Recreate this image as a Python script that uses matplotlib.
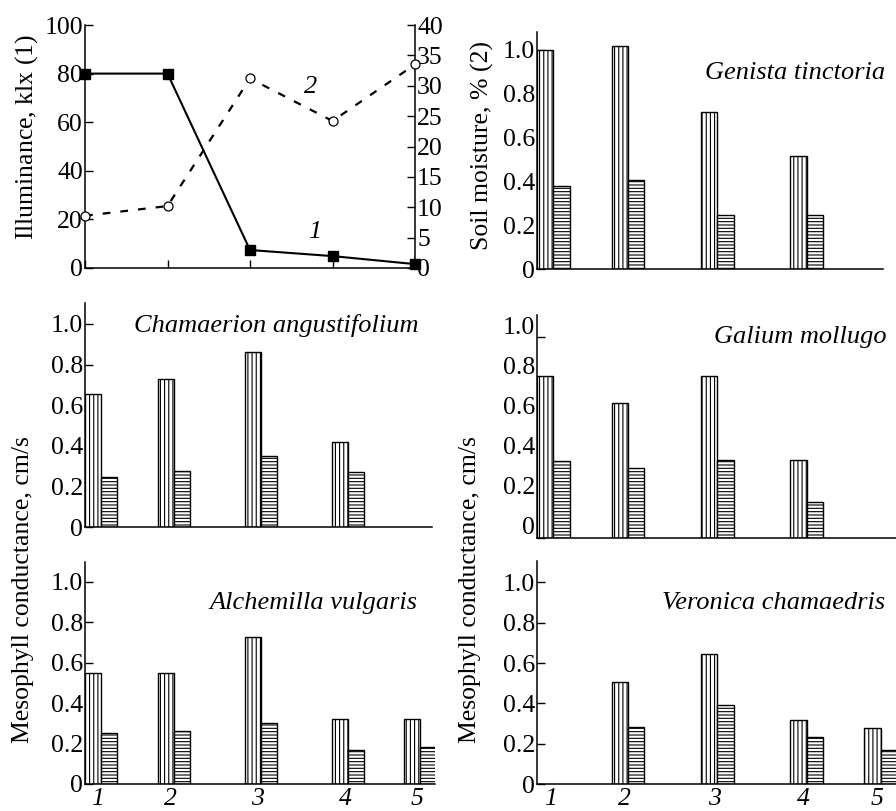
import numpy as np
import matplotlib
matplotlib.use('Agg')
import matplotlib.pyplot as plt
import matplotlib.transforms as mtransforms

plt.rcParams['font.family'] = 'Liberation Serif'
plt.rcParams['mathtext.fontset'] = 'custom'
plt.rcParams['mathtext.rm'] = 'Liberation Serif'
plt.rcParams['mathtext.it'] = 'Liberation Serif:italic'
plt.rcParams['hatch.linewidth'] = 0.8
plt.rcParams['axes.linewidth'] = 1.1

# sites along the transect
sites = ['1', '2', '3', '4', '5']
site_idx = [1, 2, 3, 4, 5]
illuminance = [80, 80, 7.4, 4.9, 1.6]          # klx, curve 1
soil_moisture = [8.6, 10.2, 31.2, 24.2, 33.5]  # %, curve 2

species = ['Genista tinctoria', 'Chamaerion angustifolium', 'Galium mollugo',
           'Alchemilla vulgaris', 'Veronica chamaedris']
# mesophyll conductance, cm/s: first bar (vertical hatch), second bar (horizontal hatch)
genista_v = [1.00, 1.02, 0.718, 0.517, np.nan]
genista_h = [0.38, 0.406, 0.245, 0.245, np.nan]
chamaerion_v = [0.657, 0.727, 0.86, 0.42, np.nan]
chamaerion_h = [0.246, 0.277, 0.35, 0.272, np.nan]
galium_v = [0.806, 0.67, 0.806, 0.39, np.nan]
galium_h = [0.385, 0.347, 0.39, 0.18, np.nan]
alchemilla_v = [0.549, 0.549, 0.725, 0.321, 0.321]
alchemilla_h = [0.251, 0.264, 0.304, 0.167, 0.182]
veronica_v = [np.nan, 0.506, 0.647, 0.317, 0.277]
veronica_h = [np.nan, 0.285, 0.393, 0.234, 0.168]

W, H = 896, 811
fig = plt.figure(figsize=(W / 100, H / 100), dpi=100)

def place(l, r, top, bottom):
    return [l / W, 1 - bottom / H, (r - l) / W, (bottom - top) / H]

FS = 18.5
LFS = 18.5
SFS = 19
group_left = [0, 4.55, 10.0, 15.45, 19.95]

# ---- illuminance / soil moisture panel
ax = fig.add_axes(place(85, 415, 25, 268))
ax.plot(site_idx, illuminance, '-', color='black', lw=1.5, marker='s', ms=7.8,
        mfc='black', mec='black', clip_on=False, zorder=3)
ax.set_xlim(1, 5)
ax.set_ylim(0, 100)
ax.set_yticks(range(0, 101, 20))
ax.set_xticks(site_idx)
ax.set_xticklabels([])
ax.tick_params(direction='in', length=6, width=1, labelsize=FS, pad=1.5)
ax.spines['top'].set_visible(False)
ax.spines['right'].set_visible(False)
ax.text(3.79, 14.8, '1', style='italic', fontsize=SFS, ha='center', va='center')
ax.text(3.73, 74.5, '2', style='italic', fontsize=SFS, ha='center', va='center')

ax2 = ax.twinx()
ax2.plot(site_idx, soil_moisture, color='black', lw=1.6, dashes=(3.5, 4.5), marker='o', ms=6.5,
         mfc='white', mec='black', mew=0.9, clip_on=False, zorder=3)
ax2.set_ylim(0, 40)
ax2.set_yticks(range(0, 41, 5))
ax2.tick_params(direction='in', length=6, width=1, labelsize=FS, pad=1.5)
for s in ['top', 'left', 'bottom']:
    ax2.spines[s].set_visible(False)

fig.text(27 / W, 1 - 137 / H, 'Illuminance, klx ($\\mathit{1}$)', rotation=90,
         ha='center', va='center', fontsize=LFS)
fig.text(482 / W, 1 - 146 / H, 'Soil moisture, % (2)', rotation=90,
         ha='center', va='center', fontsize=LFS)

# ---- bar panels
panels = [
    (place(537, 883, 31.7, 269), 1.083, 346 / 16.4, genista_v, genista_h, species[0], (1.006, 0.826), False, 0),
    (place(85, 432, 303, 527), 1.103, 347 / 16, chamaerion_v, chamaerion_h, species[1], (0.96, 0.90), False, 0),
    (place(537, 930, 315, 538), 1.11, 393 / 16.4, galium_v, galium_h, species[2], (0.89, 0.90), False, 12),
    (place(85, 435, 561.7, 784), 1.10, 350 / 16, alchemilla_v, alchemilla_h, species[3], (0.951, 0.814), True, 0),
    (place(537, 930, 561, 784.3), 1.105, 393 / 16.4, veronica_v, veronica_h, species[4], (0.885, 0.812), True, 0),
]

for rect, ytop, xmax, vals_v, vals_h, name, tpos, xlab, shift in panels:
    bx = fig.add_axes(rect)
    for x0, v, h in zip(group_left, vals_v, vals_h):
        if not np.isnan(v):
            bx.bar(x0, v, width=1, align='edge', facecolor='white', edgecolor='black',
                   hatch='||||', linewidth=1, zorder=2)
        if not np.isnan(h):
            bx.bar(x0 + 1, h, width=1, align='edge', facecolor='white', edgecolor='black',
                   hatch='-----', linewidth=1, zorder=2)
    bx.set_xlim(0, xmax)
    bx.set_ylim(0, ytop)
    bx.set_yticks([0, 0.2, 0.4, 0.6, 0.8, 1.0])
    bx.set_yticklabels(['0', '0.2', '0.4', '0.6', '0.8', '1.0'])
    bx.tick_params(axis='y', direction='in', length=6, width=1, labelsize=FS, pad=1.5)
    if xlab:
        bx.set_xticks([g + 0.8 for g in group_left])
        bx.set_xticklabels(sites, style='italic')
        bx.tick_params(axis='x', length=0, labelsize=FS, pad=3)
    else:
        bx.set_xticks([])
    bx.spines['top'].set_visible(False)
    bx.spines['right'].set_visible(False)
    bx.text(tpos[0], tpos[1], name, transform=bx.transAxes, ha='right', va='center',
            style='italic', fontsize=SFS)
    if shift:
        off = mtransforms.ScaledTranslation(0, shift / 100, fig.dpi_scale_trans)
        for lab in bx.get_yticklabels():
            lab.set_transform(lab.get_transform() + off)

fig.text(23 / W, 1 - 590 / H, 'Mesophyll conductance, cm/s', rotation=90,
         ha='center', va='center', fontsize=LFS)
fig.text(470 / W, 1 - 590 / H, 'Mesophyll conductance, cm/s', rotation=90,
         ha='center', va='center', fontsize=LFS)

fig.savefig('out.png', dpi=100)
